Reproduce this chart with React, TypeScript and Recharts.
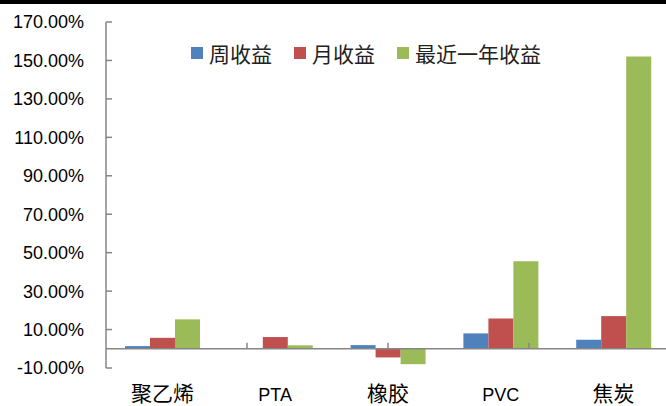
import React from 'react';
import { BarChart, Bar, XAxis, YAxis, ReferenceLine } from 'recharts';

const categories = ['聚乙烯', 'PTA', '橡胶', 'PVC', '焦炭'];
const weekly = [1.4, 0.1, 1.9, 8.0, 4.7];
const monthly = [5.7, 6.1, -4.5, 15.8, 17.0];
const yearly = [15.3, 1.8, -8.0, 45.5, 152.1];
const yTicks = [-10, 10, 30, 50, 70, 90, 110, 130, 150, 170];
const seriesNames = ['周收益', '月收益', '最近一年收益'];
const seriesColors = ['#4F81BD', '#C0504D', '#9BBB59'];

const data = categories.map((c, i) => ({
  name: c,
  weekly: weekly[i],
  monthly: monthly[i],
  yearly: yearly[i],
}));

const boundaries = categories.slice(1).map((_, i) => i + 1);

const isAscii = (s: string) => /^[\x00-\x7F]*$/.test(s);

const XTick = (props: any) => {
  const { x, y, payload } = props;
  const v = String(payload.value);
  const ascii = isAscii(v);
  return (
    <text
      x={x}
      y={y}
      dy={25}
      textAnchor="middle"
      fill="#000"
      style={{
        fontFamily: ascii ? '"Liberation Sans", Arial, sans-serif' : '"Noto Sans CJK SC", sans-serif',
        fontSize: ascii ? 18 : 21,
      }}
    >
      {v}
    </text>
  );
};

const LegendBox = () => (
  <div style={{ position: 'absolute', top: 41, left: 191, display: 'flex', alignItems: 'center', height: 24 }}>
    {seriesNames.map((n, i) => (
      <div key={n} style={{ display: 'flex', alignItems: 'center', marginRight: i < seriesNames.length - 1 ? 22 : 0 }}>
        <span style={{ display: 'inline-block', width: 12, height: 12, background: seriesColors[i], marginRight: 6 }} />
        <span style={{ fontFamily: '"Noto Sans CJK SC", sans-serif', fontSize: 21, lineHeight: '24px', color: '#222', whiteSpace: 'nowrap' }}>{n}</span>
      </div>
    ))}
  </div>
);

export default function App() {
  return (
    <div style={{ position: 'absolute', left: 0, top: 0, width: 666, height: 406, overflow: 'hidden', background: '#fff' }}>
      <BarChart
        width={670}
        height={406}
        data={data}
        margin={{ top: 22, right: 0, bottom: 0, left: 0 }}
        barSize={25}
        barGap={0}
      >
        <XAxis
          dataKey="name"
          axisLine={false}
          tickLine={false}
          height={38}
          interval={0}
          tick={<XTick />}
        />
        <XAxis xAxisId="b" type="number" domain={[0, 5]} hide />
        <YAxis
          width={106}
          domain={[-10, 170]}
          ticks={yTicks}
          interval={0}
          tickFormatter={(v: number) => `${v.toFixed(2)}%`}
          axisLine={{ stroke: '#868686', strokeWidth: 1.5 }}
          tickLine={{ stroke: '#868686', strokeWidth: 1.5 }}
          tickSize={-6}
          tickMargin={28}
          tick={{ fill: '#000', fontSize: 18, fontFamily: '"Liberation Sans", Arial, sans-serif' }}
        />
        <Bar dataKey="weekly" name={seriesNames[0]} fill={seriesColors[0]} isAnimationActive={false} />
        <Bar dataKey="monthly" name={seriesNames[1]} fill={seriesColors[1]} isAnimationActive={false} />
        <Bar dataKey="yearly" name={seriesNames[2]} fill={seriesColors[2]} isAnimationActive={false} />
        <ReferenceLine y={0} stroke="#868686" strokeWidth={1.5} />
        {boundaries.map((b) => (
          <ReferenceLine
            key={b}
            xAxisId="b"
            segment={[{ x: b, y: 0 }, { x: b, y: 3.2 }]}
            stroke="#868686"
            strokeWidth={1.5}
          />
        ))}
      </BarChart>
      <LegendBox />
      <div style={{ position: 'absolute', left: 0, top: 0, width: 666, height: 4, background: '#000' }} />
    </div>
  );
}
